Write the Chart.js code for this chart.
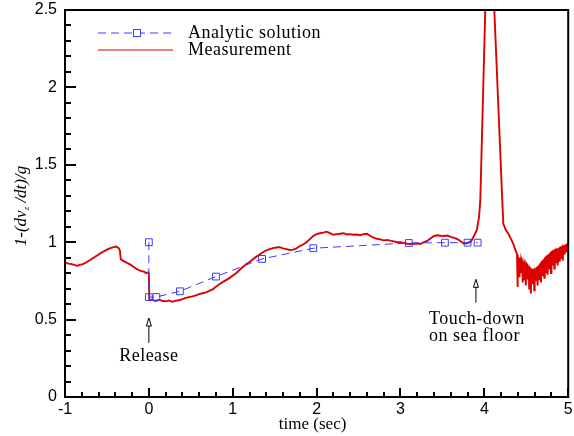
<!DOCTYPE html>
<html>
<head>
<meta charset="utf-8">
<script src="https://cdn.jsdelivr.net/npm/chart.js@4.4.0/dist/chart.umd.min.js"></script>
<style>
  body { margin: 0; background: #fff; }
</style>
</head>
<body>
<canvas id="myChart" width="574" height="436"></canvas>
<script>
// Tick labels
const xTicks = [-1, 0, 1, 2, 3, 4, 5];
const yTicks = [0, 0.5, 1, 1.5, 2, 2.5];

// Analytic solution (blue squares)
const analyticT = [0, 0, 0.09, 0.37, 0.8, 1.35, 1.96, 3.1, 3.53, 3.8, 3.92];
const analyticV = [1.0, 0.645, 0.646, 0.683, 0.778, 0.892, 0.961, 0.995, 0.997, 0.997, 0.997];

// Measurement (red)
const measT = [
  -1.0, -0.96, -0.92, -0.88, -0.85, -0.82, -0.78, -0.74, -0.70, -0.66, -0.62, -0.58, -0.54, -0.50, -0.46, -0.42, -0.39, -0.36, -0.345, -0.335,
  -0.32, -0.29, -0.26, -0.22, -0.18, -0.14, -0.10, -0.06, -0.03, -0.01, 0.0, 0.005, 0.02,
  0.04, 0.08, 0.12, 0.16, 0.2, 0.24, 0.28, 0.32, 0.36, 0.40, 0.44, 0.48, 0.52, 0.56, 0.60, 0.64, 0.68, 0.72, 0.76, 0.80,
  0.84, 0.88, 0.92, 0.96, 1.0, 1.04, 1.08, 1.12, 1.16, 1.2, 1.24, 1.28, 1.32, 1.36, 1.40, 1.44, 1.48, 1.52, 1.56, 1.60,
  1.64, 1.68, 1.72, 1.76, 1.80, 1.84, 1.88, 1.92, 1.96, 2.0, 2.04, 2.08, 2.12, 2.16, 2.2, 2.24, 2.28, 2.32, 2.36, 2.40,
  2.44, 2.48, 2.52, 2.56, 2.60, 2.64, 2.68, 2.72, 2.76, 2.80, 2.84, 2.88, 2.92, 2.96, 3.0, 3.04, 3.08, 3.12, 3.16, 3.20,
  3.24, 3.28, 3.32, 3.36, 3.40, 3.44, 3.48, 3.52, 3.56, 3.60, 3.64, 3.68, 3.72, 3.76, 3.80, 3.84, 3.87, 3.91, 3.937, 3.952,
  4.011, 4.04, 4.07, 4.1, 4.119, 4.214, 4.226, 4.255, 4.285, 4.31, 4.344, 4.37, 4.384,
  4.39, 4.395, 4.40, 4.41, 4.415, 4.42, 4.43, 4.435, 4.44, 4.45, 4.455, 4.46, 4.47, 4.475, 4.48, 4.49, 4.495, 4.50,
  4.51, 4.515, 4.52, 4.53, 4.535, 4.54, 4.55, 4.555, 4.56, 4.57, 4.575, 4.58, 4.59, 4.595, 4.60, 4.61, 4.615, 4.62,
  4.63, 4.635, 4.64, 4.65, 4.655, 4.66, 4.67, 4.675, 4.68, 4.69, 4.695, 4.70, 4.71, 4.715, 4.72, 4.73, 4.735, 4.74,
  4.75, 4.755, 4.76, 4.77, 4.775, 4.78, 4.79, 4.795, 4.80, 4.81, 4.815, 4.82, 4.83, 4.835, 4.84, 4.85, 4.855, 4.86,
  4.87, 4.875, 4.88, 4.89, 4.895, 4.90, 4.91, 4.915, 4.92, 4.93, 4.935, 4.94, 4.95, 4.955, 4.96, 4.97, 4.975, 4.98,
  4.99, 5.0
];
const measV = [
  0.87, 0.862, 0.858, 0.852, 0.848, 0.853, 0.86, 0.872, 0.885, 0.9, 0.913, 0.928, 0.94, 0.952, 0.962, 0.968, 0.972, 0.962, 0.945, 0.89,
  0.884, 0.875, 0.866, 0.855, 0.84, 0.825, 0.815, 0.81, 0.80, 0.805, 0.80, 0.63, 0.625,
  0.628, 0.62, 0.627, 0.622, 0.618, 0.624, 0.615, 0.622, 0.625, 0.632, 0.64, 0.645, 0.65, 0.657, 0.665, 0.67, 0.676, 0.685, 0.695, 0.712,
  0.728, 0.742, 0.755, 0.768, 0.785, 0.80, 0.82, 0.84, 0.858, 0.872, 0.89, 0.905, 0.92, 0.935, 0.948, 0.955, 0.962, 0.966, 0.968, 0.96,
  0.955, 0.95, 0.952, 0.96, 0.975, 0.985, 1.0, 1.02, 1.04, 1.052, 1.058, 1.062, 1.068, 1.058, 1.048, 1.052, 1.055, 1.058, 1.05, 1.052,
  1.048, 1.05, 1.045, 1.052, 1.055, 1.04, 1.03, 1.022, 1.018, 1.012, 1.015, 1.01, 1.005, 1.0, 1.0, 0.995, 0.99, 0.988, 0.99, 0.992,
  0.99, 1.0, 1.008, 1.025, 1.04, 1.045, 1.042, 1.04, 1.043, 1.035, 1.028, 1.02, 1.005, 0.99, 0.995, 1.005, 1.034, 1.078, 1.164, 1.27,
  2.5, 2.9, 3.0, 2.85, 2.5, 1.27, 1.121, 1.08, 1.056, 1.03, 0.991, 0.95, 0.931,
  0.92, 0.71, 0.91, 0.88, 0.78, 0.9, 0.87, 0.80, 0.885, 0.86, 0.74, 0.87, 0.85, 0.76, 0.86, 0.84, 0.72, 0.85,
  0.83, 0.76, 0.84, 0.82, 0.70, 0.83, 0.815, 0.668, 0.82, 0.81, 0.73, 0.82, 0.815, 0.69, 0.825, 0.82, 0.75, 0.83,
  0.835, 0.72, 0.84, 0.85, 0.76, 0.855, 0.86, 0.74, 0.87, 0.875, 0.78, 0.88, 0.89, 0.77, 0.895, 0.9, 0.80, 0.905,
  0.91, 0.79, 0.915, 0.92, 0.83, 0.925, 0.93, 0.80, 0.935, 0.94, 0.85, 0.94, 0.945, 0.83, 0.95, 0.95, 0.87, 0.955,
  0.955, 0.85, 0.96, 0.96, 0.88, 0.965, 0.965, 0.90, 0.97, 0.97, 0.88, 0.975, 0.97, 0.92, 0.975, 0.98, 0.94, 0.975,
  0.985, 0.975
];

// Annotation arrows (data coords) and their captions
const notes = [
  { x: 0, tip: 0.51, tail: 0.35, lines: ['Release'] },
  { x: 3.9, tip: 0.76, tail: 0.61, lines: ['Touch-down', 'on sea floor'] }
];

const BLUE = 'rgb(60,60,255)';
const RED = 'rgb(220,0,0)';
const SERIF = '"Liberation Serif", "Times New Roman", serif';

Chart.defaults.font.family = '"Liberation Sans", Arial, sans-serif';
Chart.defaults.color = '#000';

// desenha ticks internos, moldura, legenda, títulos e anotações
const decorPlugin = {
  id: 'decor',
  afterDraw(chart) {
    const ctx = chart.ctx;
    const a = chart.chartArea;
    const xs = chart.scales.x;
    const ys = chart.scales.y;
    ctx.save();

    // moldura
    ctx.strokeStyle = '#000';
    ctx.lineWidth = 2;
    ctx.strokeRect(a.left, a.top, a.right - a.left, a.bottom - a.top);

    // ticks internos
    ctx.lineWidth = 2;
    ctx.beginPath();
    for (let v = -1; v <= 5.001; v += 0.2) {
      const px = Math.round(xs.getPixelForValue(v));
      const major = Math.abs(v - Math.round(v)) < 1e-6;
      ctx.moveTo(px, a.bottom);
      ctx.lineTo(px, a.bottom - (major ? 9 : 5));
    }
    for (let v = 0; v <= 2.501; v += 0.1) {
      const py = Math.round(ys.getPixelForValue(v));
      const major = Math.abs(v * 2 - Math.round(v * 2)) < 1e-6;
      ctx.moveTo(a.left, py);
      ctx.lineTo(a.left + (major ? 11 : 6), py);
    }
    ctx.stroke();

    // legenda
    const lx0 = 98, lx1 = 173, ly1 = 33, ly2 = 50;
    ctx.lineWidth = 1;
    ctx.strokeStyle = BLUE;
    ctx.setLineDash([8, 5]);
    ctx.beginPath();
    ctx.moveTo(lx0, ly1); ctx.lineTo(lx1, ly1);
    ctx.stroke();
    ctx.setLineDash([]);
    ctx.fillStyle = '#fff';
    ctx.fillRect(133.5, ly1 - 3.5, 7, 7);
    ctx.strokeRect(133.5, ly1 - 3.5, 7, 7);
    ctx.strokeStyle = RED;
    ctx.beginPath();
    ctx.moveTo(lx0, ly2); ctx.lineTo(lx1, ly2);
    ctx.stroke();
    ctx.fillStyle = '#000';
    ctx.font = '18px ' + SERIF;
    ctx.letterSpacing = '0.5px';
    ctx.textAlign = 'left';
    ctx.textBaseline = 'middle';
    ctx.fillText('Analytic solution', 188, ly1);
    ctx.fillText('Measurement', 188, ly2);
    ctx.letterSpacing = '0px';

    // título do eixo x
    ctx.font = '17px ' + SERIF;
    ctx.textAlign = 'center';
    ctx.fillText('time (sec)', (a.left + a.right) / 2 - 4, 425);

    // título do eixo y (com subscrito)
    ctx.save();
    ctx.translate(22, 206);
    ctx.rotate(-Math.PI / 2);
    const big = 'italic 17px ' + SERIF;
    const small = 'italic 9px ' + SERIF;
    const parts = [['1-(dv', big, 0], ['z', small, 5], [' /dt)/g', big, 0]];
    let total = 0;
    parts.forEach(p => { ctx.font = p[1]; total += ctx.measureText(p[0]).width; });
    let cx = -total / 2;
    ctx.textAlign = 'left';
    parts.forEach(p => {
      ctx.font = p[1];
      ctx.fillText(p[0], cx, p[2]);
      cx += ctx.measureText(p[0]).width;
    });
    ctx.restore();

    // anotações
    notes.forEach(n => {
      const px = xs.getPixelForValue(n.x);
      const tip = ys.getPixelForValue(n.tip);
      const tail = ys.getPixelForValue(n.tail);
      ctx.strokeStyle = '#000';
      ctx.lineWidth = 1;
      ctx.beginPath();
      ctx.moveTo(px, tail); ctx.lineTo(px, tip + 7);
      ctx.stroke();
      ctx.beginPath();
      ctx.moveTo(px, tip);
      ctx.lineTo(px - 2.5, tip + 8);
      ctx.lineTo(px + 2.5, tip + 8);
      ctx.closePath();
      ctx.fillStyle = '#fff';
      ctx.fill();
      ctx.stroke();
      ctx.fillStyle = '#000';
      ctx.font = '18px ' + SERIF;
      ctx.letterSpacing = '0.5px';
      if (n.lines.length === 1) {
        ctx.textAlign = 'center';
        ctx.fillText(n.lines[0], px, tail + 13);
      } else {
        ctx.textAlign = 'left';
        n.lines.forEach((t, i) => ctx.fillText(t, px - 47, tail + 17 + i * 17));
      }
      ctx.letterSpacing = '0px';
    });

    ctx.restore();
  }
};

const ctx = document.getElementById('myChart').getContext('2d');
new Chart(ctx, {
  type: 'scatter',
  data: {
    datasets: [
      {
        label: 'Analytic solution',
        data: analyticT.map((t, i) => ({ x: t, y: analyticV[i] })),
        showLine: true,
        borderColor: BLUE,
        borderWidth: 1,
        borderDash: [8, 5],
        pointStyle: 'rect',
        pointRadius: 4.8,
        pointBorderWidth: 1,
        pointBorderColor: BLUE,
        pointBackgroundColor: 'rgba(255,255,255,0)'
      },
      {
        label: 'Measurement',
        data: measT.map((t, i) => ({ x: t, y: measV[i] })),
        showLine: true,
        borderColor: RED,
        borderWidth: 1.9,
        pointRadius: 0,
        tension: 0
      }
    ]
  },
  options: {
    responsive: false,
    devicePixelRatio: 1,
    animation: false,
    layout: { padding: { top: 10, right: 4, left: 0, bottom: 0 } },
    plugins: { legend: { display: false }, tooltip: { enabled: false } },
    scales: {
      x: {
        type: 'linear',
        min: -1,
        max: 5,
        afterBuildTicks: s => { s.ticks = xTicks.map(v => ({ value: v })); },
        afterFit: s => { s.height = 39; s.paddingLeft = 0; s.paddingRight = 0; },
        grid: { display: false, drawTicks: false },
        border: { display: true, color: '#000', width: 2 },
        ticks: { font: { size: 16 }, padding: 3, maxRotation: 0, callback: v => String(v) }
      },
      y: {
        type: 'linear',
        min: 0,
        max: 2.5,
        afterBuildTicks: s => { s.ticks = yTicks.map(v => ({ value: v })); },
        afterFit: s => { s.width = 65; s.paddingTop = 0; s.paddingBottom = 0; },
        grid: { display: false, drawTicks: false },
        border: { display: true, color: '#000', width: 2 },
        ticks: { font: { size: 16 }, padding: 8, callback: v => String(v) }
      }
    }
  },
  plugins: [decorPlugin]
});
</script>
</body>
</html>
